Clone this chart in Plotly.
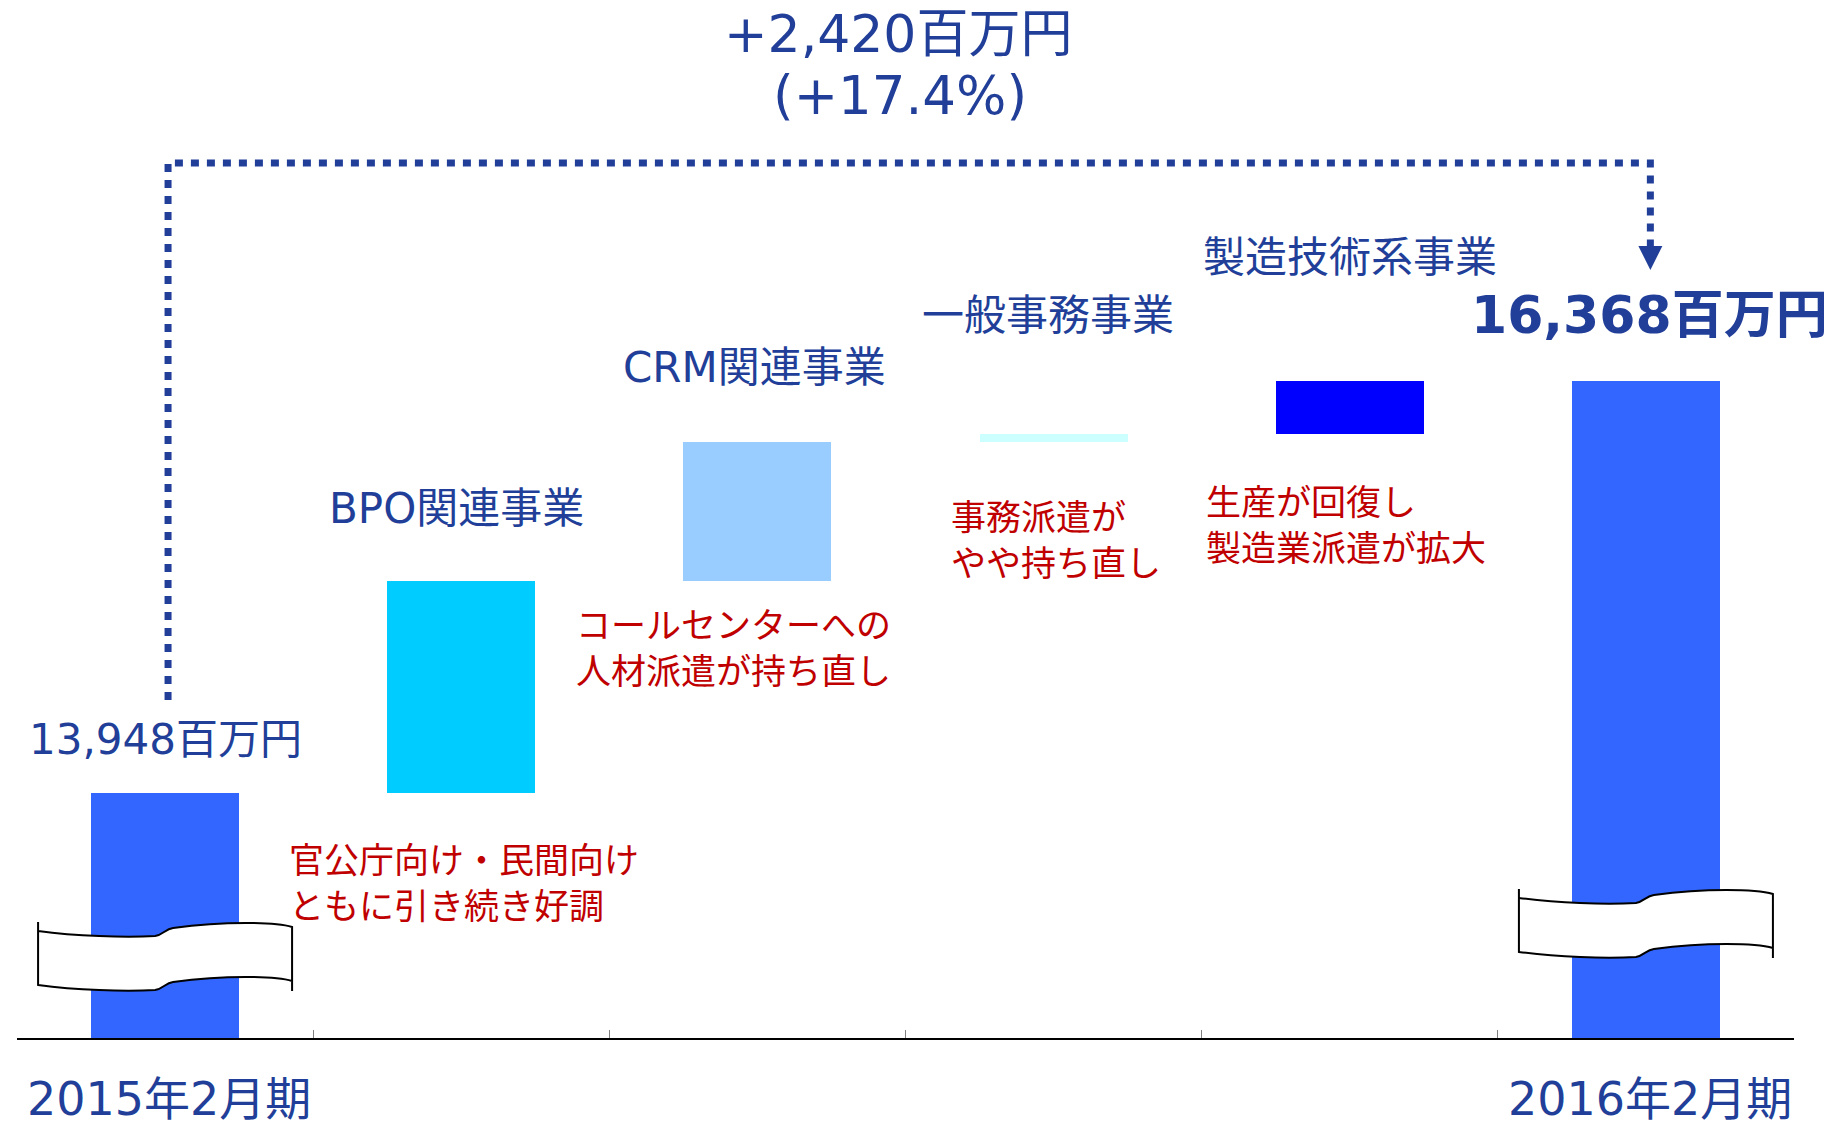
import plotly.graph_objects as go

# 売上高の増減（百万円）
categories = ["2015年2月期", "BPO関連事業", "CRM関連事業", "一般事務事業", "製造技術系事業", "2016年2月期"]
start_value = 13948
end_value = 16368
increments = [1245, 816, 47, 312]
bar_colors = ["#3366FF", "#00CCFF", "#99CCFF", "#CCFFFF", "#0000FF", "#3366FF"]
comments = [
    "官公庁向け・民間向け<br>ともに引き続き好調",
    "コールセンターへの<br>人材派遣が持ち直し",
    "事務派遣が<br>やや持ち直し",
    "生産が回復し<br>製造業派遣が拡大",
]
x_labels = ["2015年2月期", "", "", "", "", "2016年2月期"]

BLUE = "#213F99"
RED = "#C00000"
FONT = "DejaVu Sans, Noto Sans CJK JP"

# waterfall: floating bars for each business
heights = [start_value] + increments + [end_value]
bases = [0]
running = start_value
for inc in increments:
    bases.append(running)
    running += inc
bases.append(0)
tops = [b + h for b, h in zip(bases, heights)]
xpos = list(range(len(categories)))

# axis is cut (shown with break marks), so it does not start at zero
Y_MIN, Y_MAX = 12509, 18547

fig = go.Figure(go.Bar(
    x=xpos,
    y=heights,
    base=bases,
    width=0.5,
    marker=dict(color=bar_colors, line=dict(width=0)),
    hoverinfo="skip",
))

annotations = []

# business names above the floating bars
name_shift = [73, 75, 119, 123]
name_xshift = [-5, -3, -6, 0]
for i in range(1, 5):
    annotations.append(dict(
        x=xpos[i], y=tops[i], xref="x", yref="y", text=categories[i],
        showarrow=False, yshift=name_shift[i - 1], xshift=name_xshift[i - 1],
        yanchor="middle",
        font=dict(family=FONT, size=42, color=BLUE),
    ))

# red comments below the bars
cm_xshift = [-174, -183, -105, -146]
cm_yshift = [-87, -64, -95, -88]
for i in range(1, 5):
    annotations.append(dict(
        x=xpos[i], y=bases[i], xref="x", yref="y", text=comments[i - 1],
        showarrow=False, xanchor="left", yanchor="middle", align="left",
        xshift=cm_xshift[i - 1], yshift=cm_yshift[i - 1],
        font=dict(family="Noto Sans CJK JP", size=35, color=RED),
    ))

# totals
annotations.append(dict(
    x=xpos[0], y=tops[0], xref="x", yref="y", text=f"{start_value:,}百万円",
    showarrow=False, yshift=54, yanchor="middle",
    font=dict(family=FONT, size=42, color=BLUE),
))
annotations.append(dict(
    x=xpos[-1], y=tops[-1], xref="x", yref="y", text=f"<b>{end_value:,}百万円</b>",
    showarrow=False, yshift=66, yanchor="middle", xshift=4,
    font=dict(family=FONT, size=52, color=BLUE),
))

# x labels under the axis
for i, lab in enumerate(x_labels):
    if lab:
        annotations.append(dict(
            x=xpos[i], y=0, xref="x", yref="paper", text=lab,
            showarrow=False, yshift=-61, yanchor="middle", xshift=4,
            font=dict(family=FONT, size=46, color=BLUE),
        ))

# overall change bracket
diff = end_value - start_value
pct = diff / start_value * 100
bracket_top = 17649
bracket_left_bottom = 14494
arrow_top = 17161
mid_x = (xpos[0] + xpos[-1]) / 2
annotations.append(dict(
    x=mid_x, y=bracket_top, xref="x", yref="y", text=f"+{diff:,}百万円",
    showarrow=False, yshift=129, xshift=-8, yanchor="middle",
    font=dict(family=FONT, size=52, color=BLUE),
))
annotations.append(dict(
    x=mid_x, y=bracket_top, xref="x", yref="y", text=f"(+{pct:.1f}%)",
    showarrow=False, yshift=67, xshift=-6, yanchor="middle",
    font=dict(family=FONT, size=53, color=BLUE),
))

shapes = []
x0b = xpos[0] + 0.01
x1b = xpos[-1] + 0.015
shapes.append(dict(
    type="path", xref="x", yref="y",
    path=f"M {x0b},{bracket_left_bottom} L {x0b},{bracket_top} L {x1b},{bracket_top} L {x1b},{arrow_top}",
    line=dict(color=BLUE, width=7, dash="8px,8px"),
))
shapes.append(dict(
    type="path", xref="x", yref="y", xsizemode="pixel", ysizemode="pixel",
    xanchor=x1b, yanchor=arrow_top,
    path="M -12,0 L 12,0 L 0,-24 Z",
    fillcolor=BLUE, line=dict(width=0),
))


# wavy break mark (pixel offsets, screen y down -> flipped for plotly)
def break_path():
    top = [(-127, -26), (-90, -21), (-40, -19), (-10, -21), (-2, -22), (0, -28), (8, -29),
           (60, -36), (110, -35), (127, -30)]
    bot = [(127, 24), (110, 19), (60, 18), (8, 25), (0, 26), (-2, 32), (-10, 33),
           (-40, 35), (-90, 33), (-127, 28)]
    f = lambda p: f"{p[0]},{-p[1]}"
    s = f"M -127,35 L {f(top[0])} "
    s += "C " + " ".join(f(p) for p in top[1:4]) + " "
    s += "C " + " ".join(f(p) for p in top[4:7]) + " "
    s += "C " + " ".join(f(p) for p in top[7:10]) + " "
    s += f"L {f(bot[0])} "
    s += "C " + " ".join(f(p) for p in bot[1:4]) + " "
    s += "C " + " ".join(f(p) for p in bot[4:7]) + " "
    s += "C " + " ".join(f(p) for p in bot[7:10]) + " Z "
    s += "M 127,-24 L 127,-34"
    return s


break_y = [12985, 13179]
for xi, yb in zip([xpos[0], xpos[-1]], break_y):
    shapes.append(dict(
        type="path", xref="x", yref="y", xsizemode="pixel", ysizemode="pixel",
        xanchor=xi, yanchor=yb, path=break_path(),
        fillcolor="white", line=dict(color="black", width=2),
    ))

# page body has an 8px margin, so the figure is shifted by that much
fig.update_layout(
    width=1837,
    height=1115,
    margin=dict(l=9, r=51, t=2, b=85),
    plot_bgcolor="white",
    paper_bgcolor="white",
    showlegend=False,
    hovermode=False,
    bargap=0,
    annotations=annotations,
    shapes=shapes,
    xaxis=dict(
        range=[-0.5, 5.5],
        tickvals=[i - 0.5 for i in range(len(categories) + 1)],
        ticks="inside", ticklen=8, tickcolor="#808080", tickwidth=1,
        showticklabels=False, showgrid=False, zeroline=False,
        showline=True, linecolor="black", linewidth=1.5,
    ),
    yaxis=dict(range=[Y_MIN, Y_MAX], visible=False),
)

fig.write_html("out.html")
